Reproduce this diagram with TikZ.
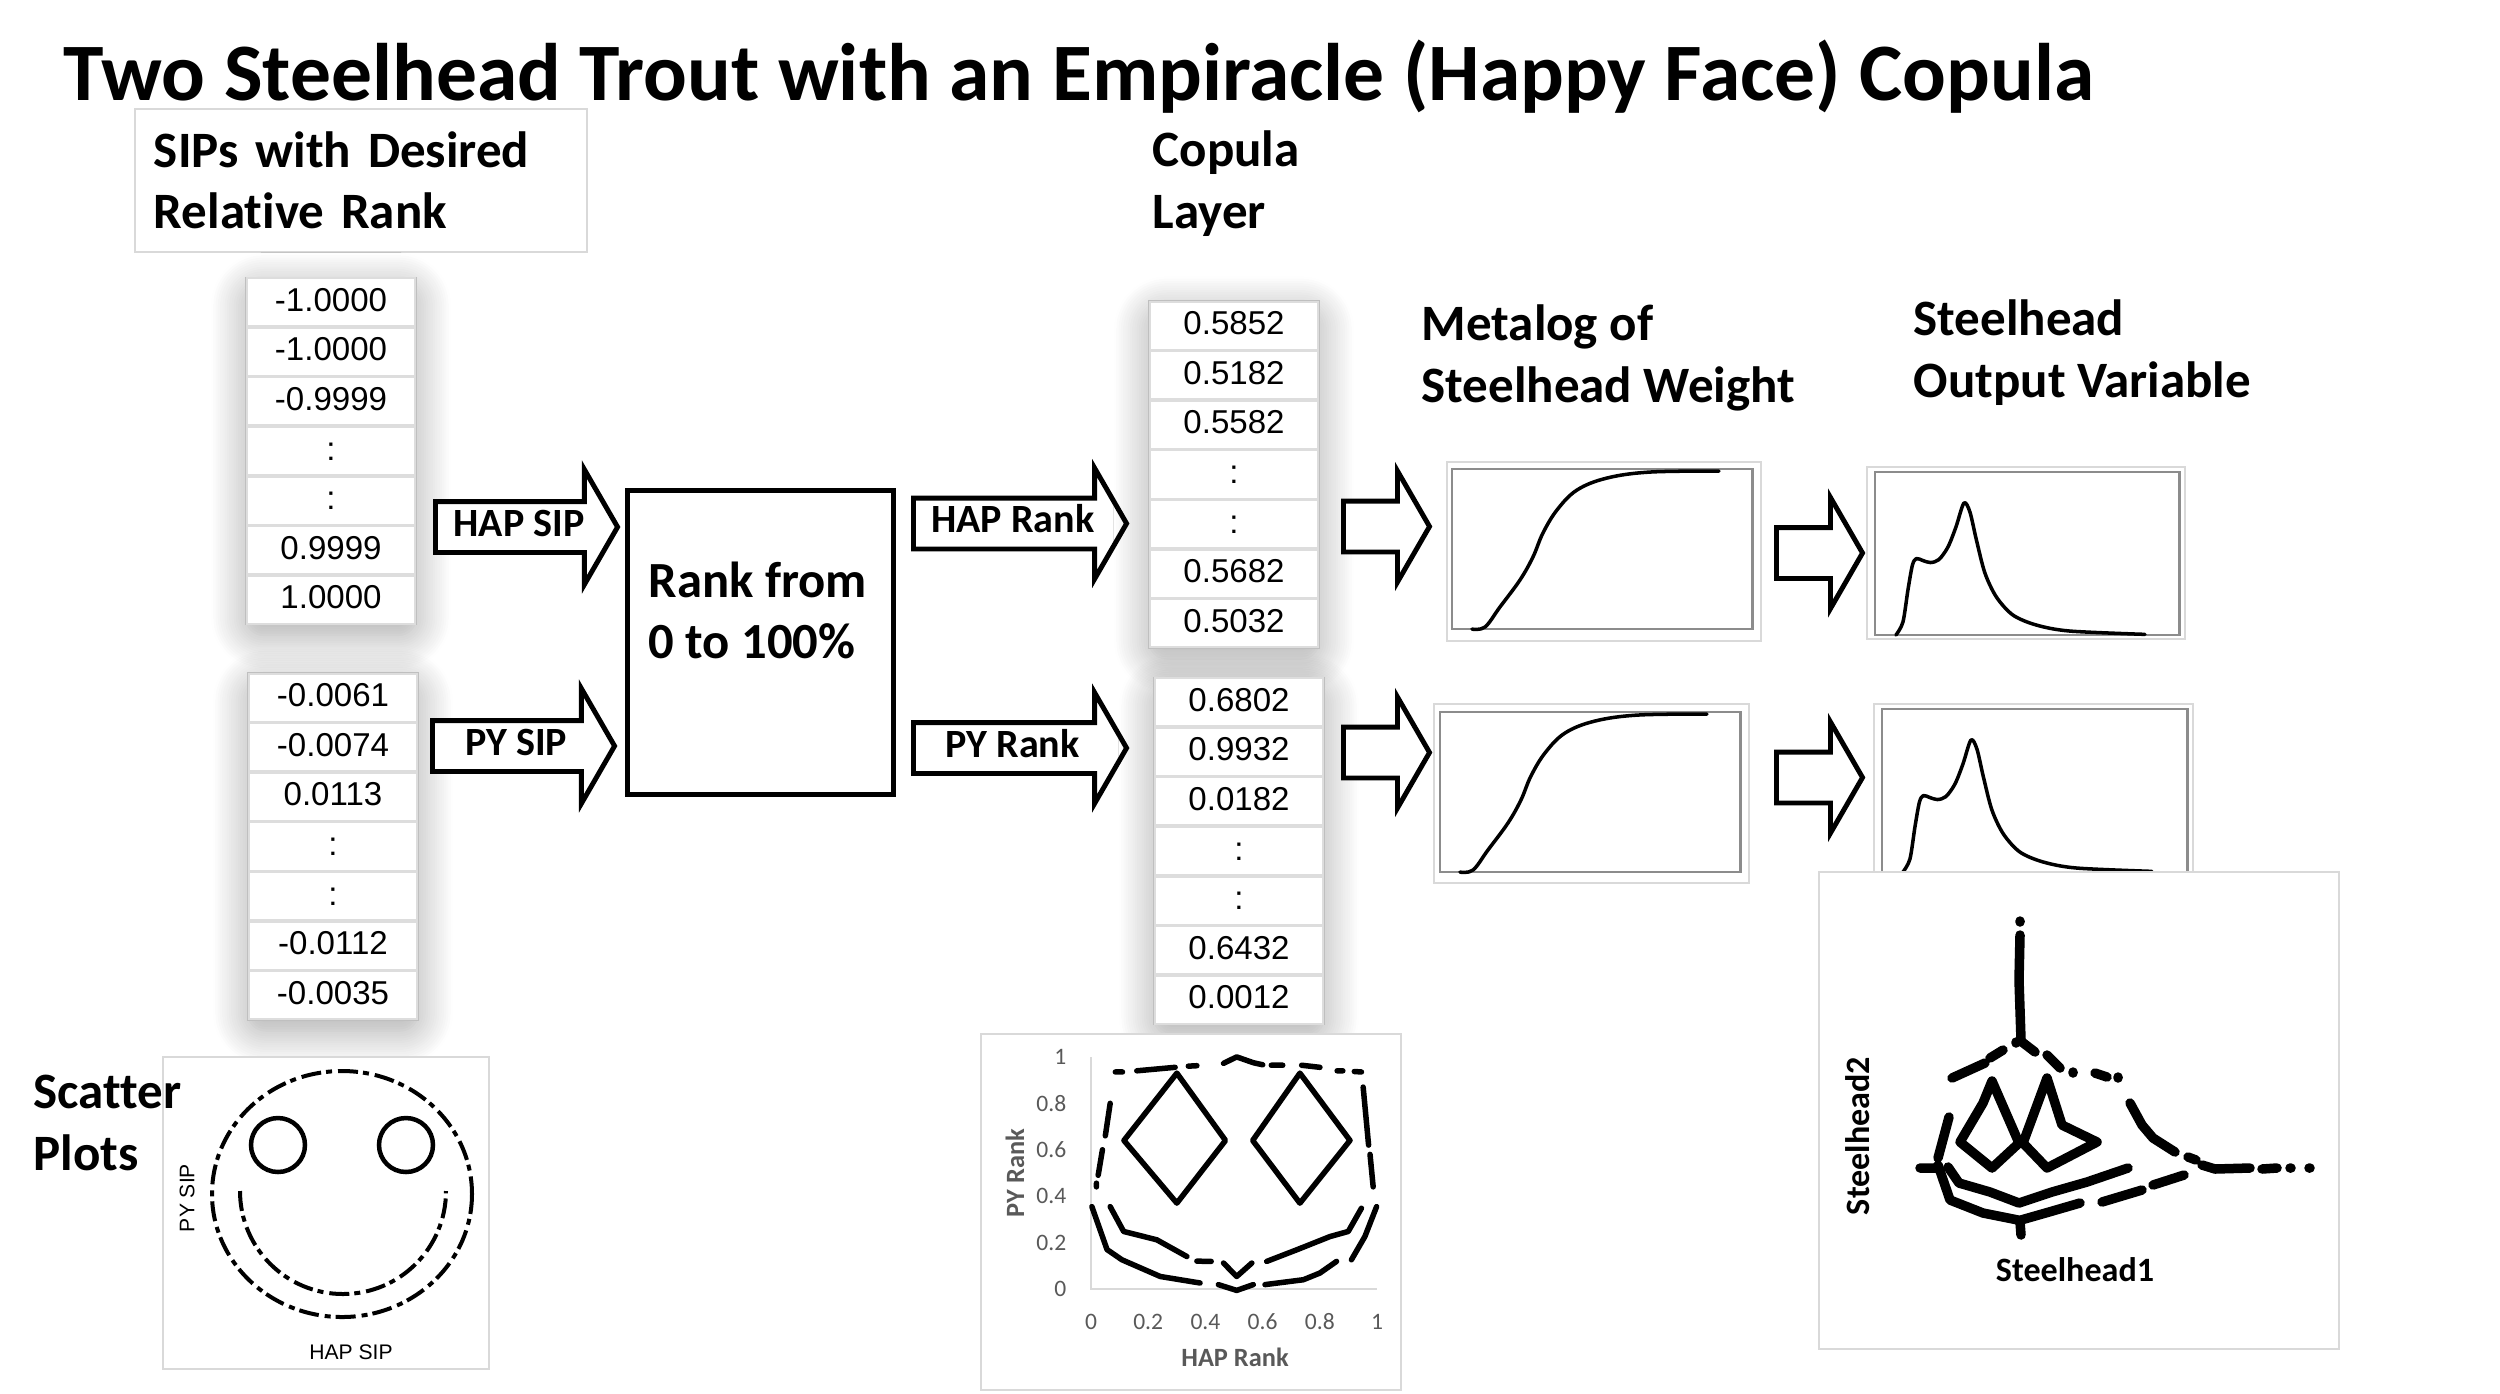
\documentclass[tikz,border=0pt]{standalone}
\usepackage{fontspec}
\setmainfont{Carlito}[Ligatures=NoCommon]
\newfontfamily\arialfont{Liberation Sans}
\usetikzlibrary{shapes.arrows, matrix, shadows.blur, calc}
\definecolor{TabGrey}  {HTML}{BFBFBF}
\definecolor{RowGrey}  {HTML}{DDDDDD}
\definecolor{FrameGrey}{HTML}{D9D9D9}
\definecolor{PlotGrey} {HTML}{8C8C8C}
\definecolor{AxisText} {HTML}{595959}

\begin{document}
\begin{tikzpicture}[
  x=0.01cm, y=-0.01cm,
  titletxt/.style={font=\bfseries\fontsize{23.2}{28}\selectfont, inner sep=0pt, anchor=base west},
  headtxt/.style={font=\bfseries\fontsize{14.5}{17.4}\selectfont, align=left, inner sep=0pt, anchor=base west},
  cell/.style={draw=RowGrey, line width=0.5pt, minimum width=1.68cm, minimum height=0.478cm,
               inner sep=0pt, text height=0.24cm, text depth=0.06cm,
               font=\arialfont\fontsize{9.4}{11}\selectfont},
  siptab/.style={matrix of nodes, nodes={cell}, row sep=0pt, inner sep=0pt, draw=TabGrey, fill=white,
               blur shadow={shadow xshift=0pt, shadow yshift=-3pt, shadow blur radius=10pt,
                            shadow blur steps=16, shadow blur extra rounding=5pt, shadow opacity=35}},
  bigarrow/.style={single arrow, draw, line width=1.4pt, fill=white, anchor=tail,
               single arrow head extend=0.3cm, single arrow tip angle=120,
               text height=0.26cm, text depth=0.08cm, inner xsep=0.05cm, inner ysep=0.06cm,
               font=\bfseries\fontsize{11.4}{13}\selectfont},
  rankbox/.style={draw, line width=1.4pt, inner sep=0pt},
  ranktxt/.style={font=\bfseries\fontsize{14.4}{17.1}\selectfont, align=left, inner sep=0pt, anchor=base west},
  chartframe/.style={draw=FrameGrey, line width=0.6pt, fill=white, inner sep=0pt, outer sep=0pt},
  plotframe/.style={draw=PlotGrey, line width=0.8pt, inner sep=0pt, outer sep=0pt},
  pdfline/.style={line width=1pt, line join=round, line cap=round},
  scatbox/.style={draw=FrameGrey, line width=0.6pt, fill=white, inner sep=0pt},
  facedots/.style={line width=0.04cm, dash pattern=on 0.2cm off 0.05cm on 0.06cm off 0.06cm},
  copdots/.style={line width=0.055cm, line cap=round, line join=round},
  fishdots/.style={line width=0.095cm, line cap=round, line join=round},
  tick/.style={font=\fontsize{6.7}{8}\selectfont, text=AxisText, inner sep=0pt},
  axtitle/.style={font=\bfseries\fontsize{7.5}{9}\selectfont, text=AxisText, inner sep=0pt},
  sipaxis/.style={font=\arialfont\fontsize{6}{7}\selectfont, inner sep=0pt},
  fishaxis/.style={font=\bfseries\fontsize{9.7}{11}\selectfont, inner sep=0pt},
  metacdf/.pic={\draw[pdfline] plot[smooth, tension=0.6] coordinates {(20,0) (33,-2) (48,-22) (68,-49)
      (81,-72) (91,-96) (105,-119) (125,-139) (155,-151) (198,-157) (267,-158)};},
  outpdf/.pic={\draw[pdfline] plot[smooth, tension=0.5] coordinates {(21,0) (28,-13) (33,-45) (37.5,-70)
      (41.5,-76.5) (48,-74.5) (55.5,-72.5) (64,-75.5) (73,-88) (81,-108) (89,-132) (95,-123)
      (101.5,-95) (110,-62) (121.5,-38) (138,-20) (161.5,-10) (195,-4) (270,-0.7)};}
]
  \useasboundingbox (0,0) rectangle (2500,1393);

  % headings
  \node[titletxt] (title) at (63,100) {Two Steelhead Trout with an Empiracle (Happy Face) Copula};
  \node[headtxt, anchor=center, draw=FrameGrey, line width=0.6pt, text width=4.14cm, inner xsep=0.19cm,
        minimum height=1.43cm] (siphead) at (361,180.5) {SIPs with Desired\\Relative Rank};
  \node[headtxt] (coplayer) at (1152,228) {Copula\\Layer};
  \node[headtxt] (metahead) at (1421,402) {Metalog of\\Steelhead Weight};
  \node[headtxt] (outhead)  at (1913,397) {Steelhead\\Output Variable};

  % SIP tables
  \matrix[siptab] (haptab) at (331,451) {
    -1.0000\\ -1.0000\\ -0.9999\\ :\\ :\\ 0.9999\\ 1.0000\\
  };
  \matrix[siptab] (pytab) at (333,846.5) {
    -0.0061\\ -0.0074\\ 0.0113\\ :\\ :\\ -0.0112\\ -0.0035\\
  };

  % into the ranking step
  \node[bigarrow, minimum height=1.82cm, single arrow head extend=0.32cm] (hapsip) at (433,527) {HAP SIP};
  \node[bigarrow, minimum height=1.82cm, single arrow head extend=0.32cm] (pysip)  at (430,746) {PY SIP};
  \node[rankbox, minimum width=2.66cm, minimum height=3.04cm] (rank) at (760.5,642.5) {};
  \node[ranktxt] (ranklbl) at (648,658) {Rank from\\0 to 100\%};
  \node[bigarrow, minimum height=2.13cm, inner xsep=0.12cm] (haprk) at (911,523.5) {HAP Rank};
  \node[bigarrow, minimum height=2.13cm, inner xsep=0.12cm] (pyrk)  at (911,748)   {PY Rank};

  % copula layer
  \matrix[siptab] (hapcop) at (1234,474.5) {
    0.5852\\ 0.5182\\ 0.5582\\ :\\ :\\ 0.5682\\ 0.5032\\
  };
  \matrix[siptab] (pycop) at (1239,851) {
    0.6802\\ 0.9932\\ 0.0182\\ :\\ :\\ 0.6432\\ 0.0012\\
  };
  \node[bigarrow, minimum height=0.86cm] (hapmeta) at (1341,526.5) {};
  \node[bigarrow, minimum height=0.86cm] (pymeta)  at (1341,752.5) {};

  % metalog cdfs
  \node[chartframe, minimum width=3.14cm, minimum height=1.79cm] (meta1)  at (1604,551.5) {};
  \node[plotframe,  minimum width=3cm,    minimum height=1.6cm]  (meta1p) at (1602,549) {};
  \pic at (meta1p.south west) {metacdf};
  \node[chartframe, minimum width=3.15cm, minimum height=1.79cm] (meta2)  at (1591.5,793.5) {};
  \node[plotframe,  minimum width=3cm,    minimum height=1.6cm]  (meta2p) at (1590,792) {};
  \pic at (meta2p.south west) {metacdf};

  \node[bigarrow, minimum height=0.86cm] (hapout) at (1774,553)   {};
  \node[bigarrow, minimum height=0.86cm] (pyout)  at (1774,777.5) {};

  % output densities
  \node[chartframe, minimum width=3.18cm, minimum height=1.72cm] (out1)  at (2026,553) {};
  \node[plotframe,  minimum width=3.04cm, minimum height=1.63cm] (out1p) at (2027,553.5) {};
  \pic at (out1p.south west) {outpdf};
  \node[chartframe, minimum width=3.19cm, minimum height=1.76cm] (out2)  at (2033.5,792) {};
  \node[plotframe,  minimum width=3.05cm, minimum height=1.63cm] (out2p) at (2034.5,790.5) {};
  \pic at (out2p.south west) {outpdf};

  % scatter of the two SIPs
  \node[scatbox, minimum width=3.26cm, minimum height=3.12cm] (facebox) at (326,1213) {};
  \draw[facedots] (342,1194) ellipse[x radius=130, y radius=123];
  \draw[line width=0.045cm] (278,1145) circle[radius=27] (406,1145) circle[radius=27];
  \draw[facedots] (240,1191) arc[start angle=180, end angle=0, radius=103];
  \node[sipaxis, rotate=90] (pysiplbl) at (187,1198) {PY SIP};
  \node[sipaxis] (hapsiplbl) at (351,1352) {HAP SIP};
  \node[headtxt] (scathead) at (33,1170) {Scatter\\Plots};

  % scatter of the two ranks
  \node[scatbox, minimum width=4.2cm, minimum height=3.56cm] (copbox) at (1191,1212) {};
  \draw[FrameGrey, line width=0.6pt] (1091,1057) -- (1091,1289) -- (1377,1289);
  \foreach \v [count=\i] in {0,0.2,0.4,0.6,0.8,1} {
    \node[tick, anchor=east] (ytick\i) at (1067,{1289-232*\v}) {\v};
    \node[tick] (xtick\i) at ({1091+286*\v},1322) {\v};
  }
  \node[axtitle] (haprklbl) at (1235,1357) {HAP Rank};
  \node[axtitle, rotate=90] (pyrklbl) at (1015,1173) {PY Rank};
  \begin{scope}[shift={(1091,1289)}, x=2.86cm, y=2.32cm]
    \draw[copdots] (0.30,0.93) -- (0.115,0.64) -- (0.30,0.37) -- (0.47,0.64) -- cycle;
    \draw[copdots] (0.73,0.93) -- (0.565,0.64) -- (0.73,0.37) -- (0.905,0.64) -- cycle;
    \draw[copdots] (0.085,0.935) -- (0.11,0.935) (0.16,0.94) -- (0.294,0.955) (0.34,0.96) -- (0.37,0.962)
      (0.463,0.972) -- (0.509,1.0) -- (0.567,0.975) -- (0.60,0.966) (0.63,0.964) -- (0.67,0.964)
      (0.736,0.964) -- (0.80,0.955) (0.86,0.94) -- (0.88,0.94) (0.92,0.937) -- (0.945,0.935);
    \draw[copdots] (0.067,0.80) -- (0.05,0.66) (0.04,0.60) -- (0.025,0.49) (0.019,0.456) -- (0.019,0.44);
    \draw[copdots] (0.951,0.87) -- (0.97,0.62) (0.975,0.58) -- (0.986,0.44);
    \draw[copdots] (0.003,0.355) -- (0.056,0.17) -- (0.108,0.126) -- (0.242,0.054) -- (0.381,0.026)
      (0.445,0.019) -- (0.509,-0.006) -- (0.567,0.019)
      (0.608,0.019) -- (0.742,0.04) -- (0.80,0.069) -- (0.858,0.119)
      (0.91,0.126) -- (0.957,0.226) -- (0.998,0.355);
    \draw[copdots] (0.067,0.355) -- (0.114,0.248) -- (0.23,0.212) -- (0.335,0.14)
      (0.37,0.12) -- (0.42,0.119) (0.463,0.112) -- (0.509,0.054) -- (0.562,0.112)
      (0.614,0.119) -- (0.719,0.169) -- (0.835,0.226) -- (0.899,0.248) -- (0.945,0.348);
  \end{scope}

  % scatter of the two outputs
  \node[scatbox, minimum width=5.2cm, minimum height=4.77cm] (fishbox) at (2079,1110.5) {};
  \draw[fishdots] (2020,921) -- (2020,922) (2020,935) -- (2019,980) -- (2021,1040);
  \draw[fishdots] (1952,1078) -- (1985,1063) (1990,1058) -- (2003,1050) (2016,1042) -- (2016,1043);
  \draw[fishdots] (2022,1042) -- (2035,1052) (2047,1055) -- (2060,1068) (2073,1072) -- (2073,1073)
    (2095,1073) -- (2107,1077) (2118,1077) -- (2118,1078);
  \draw[fishdots] (2130,1103) -- (2142,1125) -- (2153,1138) -- (2175,1152) (2188,1157) -- (2196,1160)
    (2202,1165) -- (2215,1169) -- (2250,1168) (2262,1169) -- (2277,1168) (2290,1168) -- (2291,1168)
    (2309,1168) -- (2310,1168);
  \draw[fishdots] (1992,1081) -- (1983,1103) -- (1960,1142) -- (1992,1168) -- (2019,1143) -- cycle;
  \draw[fishdots] (2047,1078) -- (2023,1143) -- (2047,1168) -- (2097,1142) -- (2062,1125) -- cycle;
  \draw[fishdots] (1949,1117) -- (1938,1158) (1920,1168) -- (1936,1168)
    (1938,1165) -- (1950,1200) -- (1983,1213) -- (2018,1220) (2020,1222) -- (2021,1235);
  \draw[fishdots] (1948,1167) -- (1959,1183) -- (1990,1192) -- (2019,1203) -- (2052,1192)
    -- (2087,1182) -- (2128,1168);
  \draw[fishdots] (2021,1220) -- (2049,1212) -- (2080,1203) (2102,1202) -- (2142,1190)
    (2153,1185) -- (2184,1175);
  \node[fishaxis] (sh1lbl) at (2075,1270) {Steelhead1};
  \node[fishaxis, rotate=90] (sh2lbl) at (1858,1136) {Steelhead2};
\end{tikzpicture}
\end{document}
